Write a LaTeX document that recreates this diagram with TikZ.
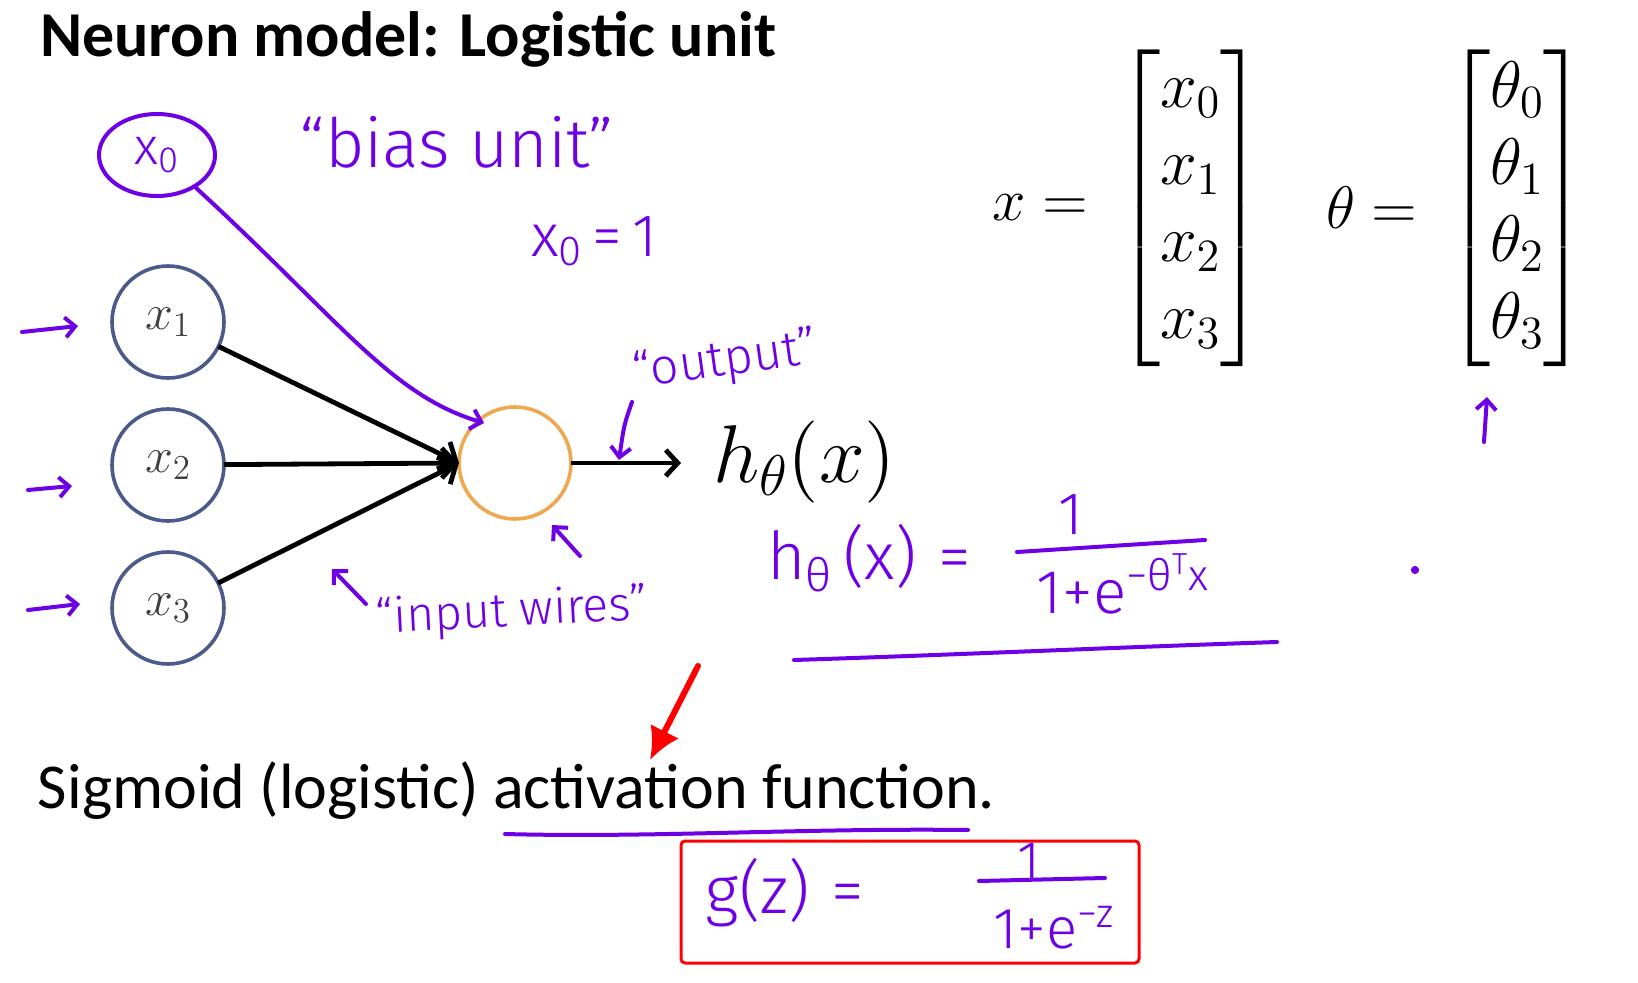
\documentclass[tikz,border=0pt]{standalone}
\usepackage{fontspec}
\usepackage{amsmath}
\usetikzlibrary{arrows.meta, positioning, shapes.geometric, calc}
\DeclareFontShape{OML}{cmm}{m}{it}{<-6>cmmi5<6-8>cmmi7<8-11>cmmi10<11->cmmi12}{}
\DeclareFontShape{OT1}{cmr}{m}{n}{<-6>cmr5<6-8>cmr7<8-11>cmr10<11->cmr12}{}
\DeclareFontShape{OMS}{cmsy}{m}{n}{<-6>cmsy5<6-8>cmsy7<8->cmsy10}{}
\DeclareFontShape{OMX}{cmex}{m}{n}{<->cmex10}{}
\newfontfamily\slidefont{Carlito}
\newfontfamily\handfont{Fira Sans Light}
\definecolor{pen}{HTML}{6E00E6}
\definecolor{unitblue}{HTML}{4A5A8A}
\definecolor{unitorange}{HTML}{F0A850}
\definecolor{markred}{HTML}{FF0000}

\begin{document}
\begin{tikzpicture}[
  x=0.5pt, y=-0.5pt,
  every node/.style={inner sep=0pt, outer sep=0pt},
  unit/.style={circle, draw=unitblue, line width=1.8pt, minimum size=56pt, text=black!75, font=\fontsize{25}{30}\selectfont},
  sumunit/.style={circle, draw=unitorange, line width=1.8pt, minimum size=56pt},
  wire/.style={draw=black, line width=2.4pt, -{Straight Barb[length=7pt, width=15pt]}},
  pen/.style={draw=pen, line width=2pt, line cap=round, line join=round},
  penarrow/.style={pen, -{Straight Barb[length=5pt, width=10pt]}},
  hand/.style={text=pen, font=\handfont\fontsize{#1}{#1}\selectfont},
  hand/.default=30,
  mathbig/.style={font=\fontsize{#1}{38.5}\selectfont},
  redbox/.style={rectangle, draw=markred, line width=1.5pt, rounded corners=2pt},
]
\useasboundingbox (0,0) rectangle (1638,983);

%% Slide text
\node[anchor=base west, font=\slidefont\bfseries\fontsize{32}{38}\selectfont] (title) at (40,57) {Neuron model: Logistic unit};
\node[anchor=base west, font=\slidefont\fontsize{32}{38}\selectfont] (sigmoid) at (38,808) {Sigmoid (logistic) activation function.};

%% Units
\node[unit] (x1) at (168,322) {$x_1$};
\node[unit] (x2) at (168,465) {$x_2$};
\node[unit] (x3) at (168,608) {$x_3$};
\node[sumunit] (sum) at (515,463) {};
\node[anchor=base west, mathbig=41] (hx) at (713,483) {$h_\theta(x)$};

%% Vectors
\node[anchor=west, mathbig=30] (xeq) at (992,208) {$x =$};
\node[anchor=west, mathbig=33] (xvec) at (1116,208) {$\begin{bmatrix}x_0\\x_1\\x_2\\x_3\end{bmatrix}$};
\node[anchor=west, mathbig=30] (thetaeq) at (1326,208) {$\theta =$};
\node[anchor=west, mathbig=33] (thetavec) at (1446,208) {$\begin{bmatrix}\theta_0\\\theta_1\\\theta_2\\\theta_3\end{bmatrix}$};

%% Wires
\draw[wire] (x1) -- (sum.west);
\draw[wire] (x2) -- (sum.west);
\draw[wire] (x3) -- (sum.west);
\draw[wire, -{Straight Barb[length=6pt, width=13pt]}, shorten >=16pt] (sum) -- (hx.west |- sum);

%% Handwritten notes
\node[ellipse, pen, minimum width=58pt, minimum height=41pt, hand=26] (bias) at (157,155) {x\textsubscript{0}};
\node[hand=34] (biasnote) at (457,142) {“bias unit”};
\node[hand=30] (xzero) at (594,241) {x\textsubscript{0}\,=\,1};
\node[hand=25, rotate=8] (outnote) at (725,362) {“output”};
\node[hand=24, rotate=3] (wiresnote) at (512,613) {“input wires”};

\coordinate (biastip) at (484,423);
\draw[penarrow] (bias.-40) .. controls (340,320) and (390,395) .. (biastip);

\coordinate (in1) at (22,332);  \coordinate (in1e) at (78,326);
\coordinate (in2) at (28,490);  \coordinate (in2e) at (72,486);
\coordinate (in3) at (28,610);  \coordinate (in3e) at (80,604);
\draw[penarrow] (in1) -- (in1e);
\draw[penarrow] (in2) -- (in2e);
\draw[penarrow] (in3) -- (in3e);

\coordinate (outtail) at (632,402); \coordinate (outtip) at (619,460);
\draw[penarrow] (outtail) .. controls (624,425) .. (outtip);
\coordinate (sumtail) at (580,556); \coordinate (sumtip) at (552,525);
\draw[penarrow] (sumtail) -- (sumtip);
\coordinate (wirestail) at (366,604); \coordinate (wirestip) at (332,569);
\draw[penarrow] (wirestail) -- (wirestip);
\coordinate (thtail) at (1484,442); \coordinate (thtip) at (1487,397);
\draw[penarrow] (thtail) -- (thtip);

%% h formula
\node[anchor=base west, hand=33] (hlhs) at (767,580) {h\textsubscript{θ}\,(x)\,\,=};
\node[hand=30] (hnum) at (1071,515) {1};
\draw[pen] (1017,552) -- (1205,540);
\node[anchor=base, hand=31] (hden) at (1123,613) {1+e\textsuperscript{−θ\textsuperscript{T}x}};
\draw[pen] (794,660) .. controls (950,655) and (1100,648) .. (1277,642);
\fill[pen] (1415,570) circle (1pt);

%% Sigmoid
\coordinate (redtail) at (698,666);
\coordinate (redtip) at (650,760);
\draw[markred, line width=3pt, line cap=round, -{Latex[length=16pt, width=16pt]}] (redtail) -- (redtip);
\draw[pen] (505,834) .. controls (650,838) and (800,828) .. (968,830);
\node[redbox, minimum width=229pt, minimum height=61pt] (gbox) at (910,902) {};
\node[hand=33] (glhs) at (785,893) {g(z)\,\,=};
\node[hand=28] (gnum) at (1029,862) {1};
\draw[pen] (979,881) -- (1105,878);
\node[hand=29] (gden) at (1054,928) {1+e\textsuperscript{−z}};

\end{tikzpicture}
\end{document}
